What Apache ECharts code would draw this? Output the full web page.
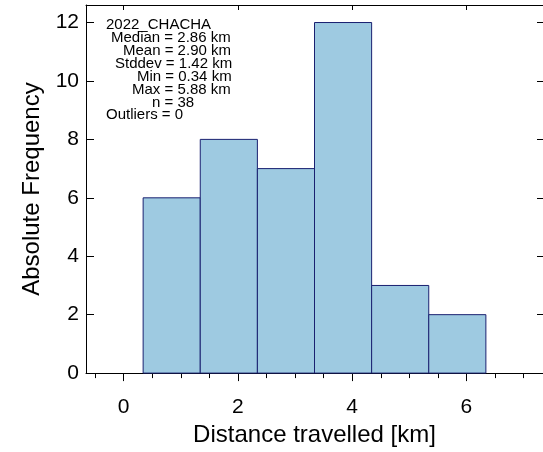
<!DOCTYPE html>
<html>
<head>
<meta charset="utf-8">
<script src="https://cdn.jsdelivr.net/npm/echarts@6/dist/echarts.min.js"></script>
<style>
  html, body { margin: 0; padding: 0; background: #fff; }
  #main { width: 543px; height: 452px; }
</style>
</head>
<body>
<div id="main"></div>
<script>
// bin edges (km) and counts
var binEdges = [0.34, 1.34, 2.34, 3.34, 4.34, 5.34, 6.34];
var counts = [6, 8, 7, 12, 3, 2];

// axis ticks
var xMajor = [0, 2, 4, 6];
var xMinor = [-0.5, 0.5, 1, 1.5, 2.5, 3, 3.5, 4.5, 5, 5.5, 6.5, 7];
var yMajor = [0, 2, 4, 6, 8, 10, 12];

// statistics box
var statLines = [
    '2022_CHACHA',
    'Median = 2.86 km',
    'Mean = 2.90 km',
    'Stddev = 1.42 km',
    'Min = 0.34 km',
    'Max = 5.88 km',
    'n = 38',
    'Outliers = 0'
];
var statLeft = [106, 111, 123, 115, 137, 132, 152, 106];

var FONT = '"Liberation Sans", Arial, Helvetica, sans-serif';
var black = {color: '#000', width: 1};

var bins = [];
for (var i = 0; i < counts.length; i++) {
    bins.push([binEdges[i], binEdges[i + 1], counts[i]]);
}

// 画直方图的柱子
function renderBin(params, api) {
    var lo = api.coord([api.value(0), 0]);
    var hi = api.coord([api.value(1), api.value(2)]);
    return {
        type: 'rect',
        shape: {x: lo[0], y: hi[1], width: hi[0] - lo[0], height: lo[1] - hi[1]},
        style: {fill: '#9ecae1', stroke: '#1a2070', lineWidth: 1}
    };
}

var texts = statLines.map(function (t, i) {
    return {
        type: 'text',
        style: {
            text: t, x: statLeft[i], y: 25 + i * 12.9,
            fill: '#000', font: '15px ' + FONT, verticalAlign: 'middle'
        },
        z: 10
    };
});

var myChart = echarts.init(document.getElementById('main'));

var option = {
    animation: false,
    grid: {left: 86, right: -1, top: 5, bottom: 78},
    xAxis: [
        {
            type: 'value', position: 'bottom', min: -0.66, max: 7.34,
            axisLine: {show: true, onZero: false, lineStyle: black},
            axisTick: {show: true, customValues: xMajor, length: 8, lineStyle: black},
            axisLabel: {customValues: xMajor, fontSize: 21, color: '#000', fontFamily: FONT, margin: 24},
            splitLine: {show: false},
            name: 'Distance travelled [km]', nameLocation: 'middle', nameGap: 38,
            nameTextStyle: {fontSize: 24, color: '#000', fontFamily: FONT}
        },
        {
            type: 'value', position: 'bottom', min: -0.66, max: 7.34,
            axisLine: {show: false, onZero: false},
            axisTick: {show: true, customValues: xMinor, length: 5, lineStyle: black},
            axisLabel: {show: false},
            splitLine: {show: false}
        },
        {
            type: 'value', position: 'top', min: -0.66, max: 7.34,
            axisLine: {show: true, onZero: false, lineStyle: black},
            axisTick: {show: true, inside: true, customValues: xMajor, length: 5, lineStyle: black},
            axisLabel: {show: false},
            splitLine: {show: false}
        }
    ],
    yAxis: [
        {
            type: 'value', position: 'left', min: 0, max: 12.6,
            axisLine: {show: true, onZero: false, lineStyle: black},
            axisTick: {show: true, inside: true, customValues: yMajor, length: 8, lineStyle: black},
            axisLabel: {customValues: yMajor, fontSize: 21, color: '#000', fontFamily: FONT, margin: 7},
            splitLine: {show: false},
            name: 'Absolute Frequency', nameLocation: 'middle', nameGap: 37,
            nameTextStyle: {fontSize: 24, color: '#000', fontFamily: FONT}
        },
        {
            type: 'value', position: 'right', min: 0, max: 12.6,
            axisLine: {show: true, onZero: false, lineStyle: black},
            axisTick: {show: true, inside: true, customValues: yMajor, length: 6, lineStyle: black},
            axisLabel: {show: false},
            splitLine: {show: false}
        }
    ],
    series: [{
        type: 'custom',
        renderItem: renderBin,
        xAxisIndex: 0,
        yAxisIndex: 0,
        encode: {x: [0, 1], y: 2},
        data: bins
    }],
    graphic: texts
};

myChart.setOption(option);
</script>
</body>
</html>
